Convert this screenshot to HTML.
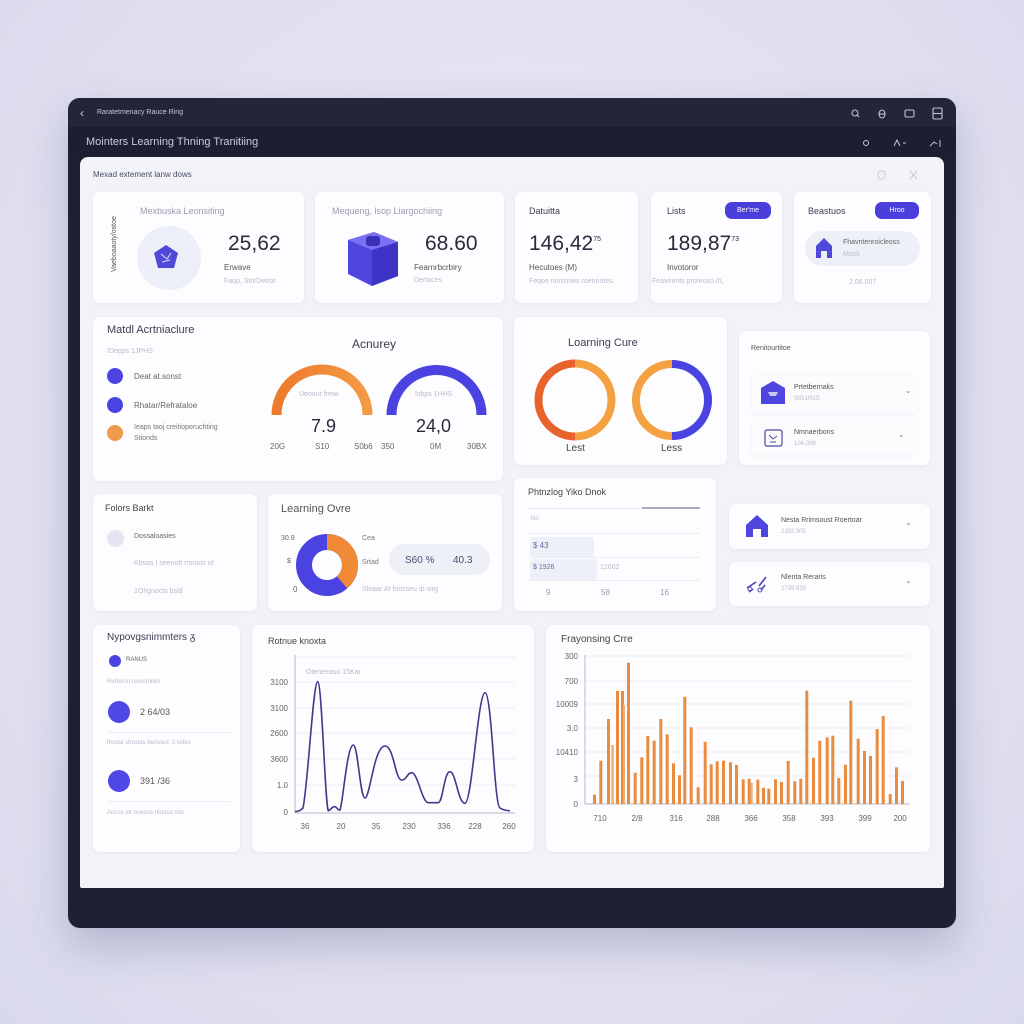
<!DOCTYPE html>
<html><head><meta charset="utf-8">
<style>
*{margin:0;padding:0;box-sizing:border-box}
html,body{width:1024px;height:1024px;overflow:hidden}
body{background:radial-gradient(ellipse at 50% 45%,#eaeaf5 0%,#e2e2f1 55%,#d9d9ec 100%);font-family:"Liberation Sans",sans-serif;position:relative}
.a{position:absolute;white-space:nowrap}
.frame{left:68px;top:98px;width:888px;height:830px;background:#1e2134;border-radius:12px;box-shadow:0 18px 40px rgba(60,60,110,.25)}
.bar1{left:68px;top:98px;width:888px;height:29px;background:#232639;border-radius:12px 12px 0 0}
.panel{left:80px;top:157px;width:864px;height:731px;background:#f2f3f9;border-radius:8px 8px 2px 2px}
.card{position:absolute;background:#fdfdff;border-radius:7px;box-shadow:0 1px 4px rgba(90,90,140,.08)}
.t{position:absolute;white-space:nowrap;color:#3b3d52}
.g{color:#9a9cb0}
.lg{color:#b8bac8}
.pill{position:absolute;background:#4b3fdc;color:#fff;border-radius:7px;font-size:7px;text-align:center;line-height:17px}
</style></head><body>
<div class="a frame"></div>
<div class="a bar1"></div>
<div class="a" style="left:68px;top:127px;width:888px;height:30px;background:#1c1f31"></div>
<div class="a" style="left:80px;top:106px;color:#c9cbe0;font-size:12px">&#8249;</div>
<div class="a" style="left:97px;top:109px;color:#c4c6da;font-size:7px">Raratetmenacy Rauce Ring</div>
<svg class="a" style="left:845px;top:104px" width="100" height="20" viewBox="0 0 100 20">
<g fill="none" stroke="#c2c4d8" stroke-width="1.1">
<circle cx="10" cy="9" r="3"/><line x1="12" y1="11" x2="14" y2="13"/>
<ellipse cx="37" cy="10" rx="3" ry="4"/><line x1="34" y1="10" x2="40" y2="10"/>
<rect x="60" y="6" width="9" height="7" rx="1.5"/>
<rect x="88" y="4" width="9" height="11" rx="1.5"/><line x1="88" y1="9.5" x2="97" y2="9.5"/>
</g></svg>
<div class="a" style="left:86px;top:136px;color:#c9cbe0;font-size:11px">Mointers Learning Thning Tranitiing</div>
<svg class="a" style="left:858px;top:135px" width="90" height="16" viewBox="0 0 90 16">
<g fill="none" stroke="#c2c4d8" stroke-width="1">
<circle cx="8" cy="8" r="2.5"/><path d="M36 11 l3-6 l3 6 M45 8 h3"/><path d="M72 11 l4-4 l3 2 M82 5 v7"/>
</g></svg>

<div class="a panel"></div>
<div class="a" style="left:93px;top:170px;color:#4a4c60;font-size:8px">Mexad extement lanw dows</div>
<svg class="a" style="left:872px;top:166px" width="50" height="18"><g fill="none" stroke="#c6c8d6" stroke-width="1"><rect x="6" y="5" width="7" height="8" rx="3"/><path d="M38 5 l7 8 M45 5 l-7 8"/></g></svg>

<!-- Row 1 -->
<div class="card" style="left:93px;top:192px;width:211px;height:111px"></div>
<div class="t" style="left:111px;top:272px;font-size:7px;transform:rotate(-90deg);transform-origin:0 0;color:#555">Vaeboaaoty/ostoe</div>
<div class="t g" style="left:140px;top:206px;font-size:9px">Mexbuska Leonsiting</div>
<div class="a" style="left:137px;top:226px;width:64px;height:64px;border-radius:50%;background:#eceef8"></div>
<svg class="a" style="left:153px;top:244px" width="26" height="26"><polygon points="13,1 25,9 21,24 5,24 1,9" fill="#5048d8"/><path d="M8 10 l6 5 l4-6 M9 18 l8-2" stroke="#c9c6f5" stroke-width="1.2" fill="none"/></svg>
<div class="t" style="left:228px;top:232px;font-size:21px;color:#2a2c3c">25,62</div>
<div class="t" style="left:224px;top:263px;font-size:8px;color:#555">Erwave</div>
<div class="t lg" style="left:224px;top:278px;font-size:7px">Faop, Sto/Detrot</div>

<div class="card" style="left:315px;top:192px;width:189px;height:111px"></div>
<div class="t g" style="left:332px;top:206px;font-size:9px">Mequeng, lsop Liargochiing</div>
<svg class="a" style="left:340px;top:228px" width="62" height="62" viewBox="0 0 62 62">
<polygon points="8,12 34,4 58,14 58,48 32,58 8,46" fill="#4f46e0"/>
<polygon points="8,12 34,4 58,14 32,22" fill="#7b70f0"/>
<polygon points="32,22 58,14 58,48 32,58" fill="#3d33c4"/>
<rect x="26" y="8" width="14" height="10" rx="3" fill="#3a30b8"/>
</svg>
<div class="t" style="left:425px;top:232px;font-size:21px;color:#2a2c3c">68.60</div>
<div class="t" style="left:414px;top:263px;font-size:8px;color:#555">Fearnrbcrbiry</div>
<div class="t lg" style="left:414px;top:277px;font-size:7px">Dertoces</div>

<div class="card" style="left:515px;top:192px;width:123px;height:111px"></div>
<div class="t" style="left:529px;top:206px;font-size:9px">Datuitta</div>
<div class="t" style="left:529px;top:232px;font-size:21px;color:#2a2c3c">146,42<sup style="font-size:7px;vertical-align:9px">75</sup></div>
<div class="t" style="left:529px;top:263px;font-size:8px;color:#555">Hecutoes (M)</div>
<div class="t lg" style="left:529px;top:278px;font-size:7px">Feqoe norcones roennotes.</div>

<div class="card" style="left:651px;top:192px;width:131px;height:111px"></div>
<div class="t" style="left:667px;top:206px;font-size:9px">Lists</div>
<div class="pill" style="left:725px;top:202px;width:46px;height:17px">Ber'me</div>
<div class="t" style="left:667px;top:232px;font-size:21px;color:#2a2c3c">189,87<sup style="font-size:7px;vertical-align:9px">73</sup></div>
<div class="t" style="left:667px;top:263px;font-size:8px;color:#555">Invotoror</div>
<div class="t lg" style="left:652px;top:278px;font-size:7px">Feavirents proteoso Ih,</div>

<div class="card" style="left:794px;top:192px;width:137px;height:111px"></div>
<div class="t" style="left:808px;top:206px;font-size:9px">Beastuos</div>
<div class="pill" style="left:875px;top:202px;width:44px;height:17px">Hroo</div>
<div class="a" style="left:805px;top:231px;width:115px;height:35px;border-radius:17px;background:#eef0f8"></div>
<svg class="a" style="left:815px;top:237px" width="18" height="22"><polygon points="9,1 17,9 17,21 12,21 12,14 6,14 6,21 1,21 1,9" fill="#5048d8"/></svg>
<div class="t" style="left:843px;top:239px;font-size:7px;color:#666">Fhavntenroicleoss</div>
<div class="t lg" style="left:843px;top:251px;font-size:7px">Mock</div>
<div class="t lg" style="left:849px;top:279px;font-size:7px">2.06.007</div>

<!-- Row 2 -->
<div class="card" style="left:93px;top:317px;width:410px;height:164px"></div>
<div class="t" style="left:107px;top:324px;font-size:11px;color:#3a3c50">Matdl Acrtniaclure</div>
<div class="t lg" style="left:107px;top:348px;font-size:7px">/Depps 1JPHS</div>
<div class="a" style="left:107px;top:368px;width:16px;height:16px;border-radius:50%;background:#4a43e2"></div>
<div class="t" style="left:134px;top:372px;font-size:8px;color:#666">Deat at.sonst</div>
<div class="a" style="left:107px;top:397px;width:16px;height:16px;border-radius:50%;background:#4a43e2"></div>
<div class="t" style="left:134px;top:401px;font-size:8px;color:#666">Rhatar/Refrataloe</div>
<div class="a" style="left:107px;top:425px;width:16px;height:16px;border-radius:50%;background:#f29a4c"></div>
<div class="t" style="left:134px;top:424px;font-size:7px;color:#777">Ieaps taoj creitioporuchting</div>
<div class="t" style="left:134px;top:435px;font-size:7px;color:#777">Stionds</div>
<div class="t" style="left:352px;top:337px;font-size:12px;color:#3a3c50">Acnurey</div>
<svg class="a" style="left:260px;top:355px" width="240" height="70">
<defs><linearGradient id="og" x1="0" x2="1"><stop offset="0" stop-color="#ee7a2c"/><stop offset="1" stop-color="#f39a46"/></linearGradient></defs>
<path d="M16.5 60 A45.5 45.5 0 0 1 107.5 60" fill="none" stroke="url(#og)" stroke-width="10"/>
<path d="M131.5 60 A45 45 0 0 1 221.5 60" fill="none" stroke="#4a43e2" stroke-width="10"/>
</svg>
<div class="t lg" style="left:299px;top:391px;font-size:7px">Ueoour freiw</div>
<div class="t lg" style="left:415px;top:391px;font-size:7px">Isbps 1HHS</div>
<div class="t" style="left:311px;top:416px;font-size:18px;color:#2a2c3c">7.9</div>
<div class="t" style="left:416px;top:416px;font-size:18px;color:#2a2c3c">24,0</div>
<div class="t" style="left:270px;top:442px;font-size:8px;color:#666">20G</div>
<div class="t" style="left:315px;top:442px;font-size:8px;color:#666">S10</div>
<div class="t" style="left:354px;top:442px;font-size:8px;color:#666">S0b6</div>
<div class="t" style="left:381px;top:442px;font-size:8px;color:#666">350</div>
<div class="t" style="left:430px;top:442px;font-size:8px;color:#666">0M</div>
<div class="t" style="left:467px;top:442px;font-size:8px;color:#666">30BX</div>

<div class="card" style="left:514px;top:317px;width:213px;height:148px"></div>
<div class="t" style="left:568px;top:337px;font-size:11px;color:#3a3c50">Loarning Cure</div>
<svg class="a" style="left:530px;top:355px" width="190" height="90">
<path d="M45 8.5 A36.5 36.5 0 0 0 45 81.5" fill="none" stroke="#e8622b" stroke-width="8"/>
<path d="M45 8.5 A36.5 36.5 0 0 1 45 81.5" fill="none" stroke="#f4a141" stroke-width="8"/>
<path d="M142 9 A36 36 0 0 0 142 81" fill="none" stroke="#f4a141" stroke-width="8"/>
<path d="M142 9 A36 36 0 0 1 142 81" fill="none" stroke="#4a43e2" stroke-width="8"/>
</svg>
<div class="t" style="left:566px;top:443px;font-size:10px;color:#444">Lest</div>
<div class="t" style="left:661px;top:443px;font-size:10px;color:#444">Less</div>

<div class="card" style="left:739px;top:331px;width:191px;height:134px"></div>
<div class="t" style="left:751px;top:345px;font-size:7px;color:#555">Renitourtitoe</div>
<div class="a" style="left:752px;top:374px;width:166px;height:40px;border-radius:5px;background:#fbfbfe;box-shadow:0 1px 3px rgba(90,90,140,.08)"></div>
<svg class="a" style="left:760px;top:380px" width="26" height="25"><polygon points="13,1 25,8 25,24 1,24 1,8" fill="#4f46e0"/><path d="M8 12 h10 l-2 4 h-6z" fill="#c9c6f5"/></svg>
<div class="t" style="left:794px;top:384px;font-size:7px;color:#555">Prtetbernaks</div>
<div class="t lg" style="left:794px;top:396px;font-size:6px">SI0/1R2S</div>
<div class="t" style="left:905px;top:386px;font-size:8px;color:#888">&#8964;</div>
<div class="a" style="left:752px;top:420px;width:166px;height:35px;border-radius:5px;background:#fbfbfe;box-shadow:0 1px 3px rgba(90,90,140,.08)"></div>
<svg class="a" style="left:764px;top:429px" width="20" height="18"><rect x="1" y="1" width="17" height="16" rx="2" fill="none" stroke="#4a4aa0" stroke-width="1.2"/><path d="M5 6 l4 4 l4-3 M6 13 h6" stroke="#4a4aa0" fill="none"/></svg>
<div class="t" style="left:794px;top:429px;font-size:7px;color:#555">Nmnaerbons</div>
<div class="t lg" style="left:794px;top:441px;font-size:6px">104,008</div>
<div class="t" style="left:898px;top:430px;font-size:8px;color:#888">&#8964;</div>

<!-- Row 3 -->
<div class="card" style="left:93px;top:494px;width:164px;height:117px"></div>
<div class="t" style="left:105px;top:503px;font-size:9px;color:#444">Folors Barkt</div>
<div class="a" style="left:107px;top:530px;width:17px;height:17px;border-radius:50%;background:#e4e5f0"></div>
<div class="t" style="left:134px;top:533px;font-size:7px;color:#666">Dossaloasies</div>
<div class="t lg" style="left:134px;top:560px;font-size:7px">Kbsas I seenott rrsnosr of</div>
<div class="t lg" style="left:134px;top:588px;font-size:7px">1Ohgnocts bsld</div>

<div class="card" style="left:268px;top:494px;width:234px;height:117px"></div>
<div class="t" style="left:281px;top:503px;font-size:11px;color:#555">Learning Ovre</div>
<svg class="a" style="left:295px;top:533px" width="64" height="64" viewBox="-32 -32 64 64">
<circle r="23" fill="none" stroke="#4a43e2" stroke-width="16"/>
<path d="M0 -23 A23 23 0 0 1 15.1 17.4" fill="none" stroke="#f08a36" stroke-width="16"/>
</svg>
<div class="t" style="left:281px;top:535px;font-size:7px;color:#666">30.9</div>
<div class="t" style="left:287px;top:558px;font-size:7px;color:#666">$</div>
<div class="t" style="left:293px;top:585px;font-size:8px;color:#666">0</div>
<div class="t" style="left:362px;top:535px;font-size:7px;color:#777">Cea</div>
<div class="t" style="left:362px;top:559px;font-size:7px;color:#777">Srtad</div>
<div class="a" style="left:389px;top:544px;width:101px;height:31px;border-radius:15px;background:#eef0f8"></div>
<div class="t" style="left:405px;top:555px;font-size:10px;color:#4a4c70">S60 %</div>
<div class="t" style="left:453px;top:555px;font-size:10px;color:#4a4c70">40.3</div>
<div class="t lg" style="left:362px;top:586px;font-size:7px">Sleaar At fonsseu ıp sirg</div>

<div class="card" style="left:514px;top:478px;width:202px;height:133px"></div>
<div class="t" style="left:528px;top:487px;font-size:9px;color:#444">Phtnzlog Yiko Dnok</div>
<div class="a" style="left:528px;top:508px;width:172px;height:1px;background:#e8e9f0"></div>
<div class="a" style="left:642px;top:507px;width:58px;height:2px;background:#a9abbe"></div>
<div class="t lg" style="left:531px;top:516px;font-size:6px">No</div>
<div class="a" style="left:528px;top:533px;width:172px;height:1px;background:#ececf3"></div>
<div class="a" style="left:530px;top:537px;width:64px;height:20px;border-radius:3px;background:#eef0f9"></div>
<div class="t" style="left:533px;top:541px;font-size:8px;color:#6a6aa0">$ 43</div>
<div class="a" style="left:528px;top:557px;width:172px;height:1px;background:#ececf3"></div>
<div class="a" style="left:530px;top:559px;width:67px;height:21px;border-radius:3px;background:#eef0f9"></div>
<div class="t" style="left:533px;top:564px;font-size:7px;color:#6a6aa0">$ 1926</div>
<div class="t lg" style="left:600px;top:564px;font-size:7px">12002</div>
<div class="a" style="left:528px;top:580px;width:172px;height:1px;background:#ececf3"></div>
<div class="t g" style="left:546px;top:588px;font-size:8px">9</div>
<div class="t g" style="left:601px;top:588px;font-size:8px">58</div>
<div class="t g" style="left:660px;top:588px;font-size:8px">16</div>

<div class="card" style="left:729px;top:504px;width:201px;height:45px"></div>
<svg class="a" style="left:745px;top:514px" width="24" height="24"><path d="M12 1 L23 11 V23 H16 V15 H8 V23 H1 V11 Z" fill="#4f46e0"/></svg>
<div class="t" style="left:781px;top:517px;font-size:7px;color:#555">Nesta Rrimsoust Roertoar</div>
<div class="t lg" style="left:781px;top:529px;font-size:6px">2J92.005</div>
<div class="t" style="left:905px;top:518px;font-size:8px;color:#888">&#8964;</div>
<div class="card" style="left:729px;top:562px;width:201px;height:44px"></div>
<svg class="a" style="left:745px;top:572px" width="24" height="22"><path d="M2 16 l9-6 M4 20 l4-3 M14 14 l7-9 M16 18 l4-5" stroke="#4a43c0" stroke-width="1.6" fill="none"/><circle cx="5" cy="17" r="2" fill="none" stroke="#4a43c0"/><circle cx="15" cy="18" r="2" fill="none" stroke="#4a43c0"/></svg>
<div class="t" style="left:781px;top:574px;font-size:7px;color:#555">Nlenta Reraris</div>
<div class="t lg" style="left:781px;top:586px;font-size:6px">2739 835</div>
<div class="t" style="left:905px;top:576px;font-size:8px;color:#888">&#8964;</div>

<!-- Row 4 -->
<div class="card" style="left:93px;top:625px;width:147px;height:227px"></div>
<div class="t" style="left:107px;top:632px;font-size:10px;color:#3a3c50">Nypovgsnimmters ᵹ</div>
<div class="a" style="left:109px;top:655px;width:12px;height:12px;border-radius:50%;background:#4a43e2"></div>
<div class="t" style="left:126px;top:657px;font-size:6px;color:#666">RANUS</div>
<div class="t lg" style="left:107px;top:679px;font-size:6px">Rurtercn rsessmites</div>
<div class="a" style="left:108px;top:701px;width:22px;height:22px;border-radius:50%;background:#4f48e6"></div>
<div class="t" style="left:140px;top:707px;font-size:9px;color:#555">2 64/03</div>
<div class="a" style="left:107px;top:732px;width:124px;height:1px;background:#ececf3"></div>
<div class="t lg" style="left:107px;top:740px;font-size:6px">Ihsota stnsdas beristed, 5 lsltes</div>
<div class="a" style="left:108px;top:770px;width:22px;height:22px;border-radius:50%;background:#4f48e6"></div>
<div class="t" style="left:140px;top:776px;font-size:9px;color:#555">391 /36</div>
<div class="a" style="left:107px;top:801px;width:124px;height:1px;background:#ececf3"></div>
<div class="t lg" style="left:107px;top:810px;font-size:6px">Ancos str oceeus rtinoca rlds</div>

<div class="card" style="left:252px;top:625px;width:282px;height:227px"></div>
<div class="t" style="left:268px;top:636px;font-size:9px;color:#444">Rotnue knoxta</div>
<svg class="a" style="left:252px;top:625px" width="282" height="227">
<g stroke="#ececf3" stroke-width="1">
<line x1="43" y1="32" x2="263" y2="32"/><line x1="43" y1="57" x2="263" y2="57"/><line x1="43" y1="83" x2="263" y2="83"/><line x1="43" y1="108" x2="263" y2="108"/><line x1="43" y1="134" x2="263" y2="134"/><line x1="43" y1="160" x2="263" y2="160"/>
</g>
<line x1="43" y1="30" x2="43" y2="188" stroke="#b8bacb"/>
<line x1="43" y1="188" x2="263" y2="188" stroke="#b8bacb"/>
<g fill="#666" font-size="8" font-family="Liberation Sans" text-anchor="end">
<text x="36" y="60">3100</text><text x="36" y="86">3100</text><text x="36" y="111">2600</text><text x="36" y="137">3600</text><text x="36" y="163">1.0</text><text x="36" y="190">0</text>
</g>
<g fill="#666" font-size="8" font-family="Liberation Sans" text-anchor="middle">
<text x="53" y="204">36</text><text x="89" y="204">20</text><text x="124" y="204">35</text><text x="157" y="204">230</text><text x="192" y="204">336</text><text x="223" y="204">228</text><text x="257" y="204">260</text>
</g>
<text x="54" y="49" fill="#b6b8c6" font-size="7" font-family="Liberation Sans">Oteneeaso 15Kar</text>
<path d="M43 186.7 C48 186 49 185 51 183 C56 160 61 57 65.7 56.7 C70 57 73 180 76.3 185.7 C78 186 80 181 83 181.7 C85 182 86 186 88 185 C91 178 95 120 101.3 120 C106 120 108 173 113 173 C118 173 122 121 133 121 C142 121 143 155 149.7 155 C155 155 155 147.7 159.7 147.7 C166 148 170 177.7 176.3 177.7 L186.3 177.7 C191 177 192 146.7 198 146.7 C204 147 206 178.3 213 178.3 C220 178 226 67.7 233 67.7 C240 68 242 180 248 183 C252 185.5 255 185.7 258 185.7" fill="none" stroke="#3b3a8c" stroke-width="1.6"/>
</svg>

<div class="card" style="left:546px;top:625px;width:384px;height:227px"></div>
<div class="t" style="left:561px;top:634px;font-size:10px;color:#444">Frayonsing Crre</div>
<svg class="a" style="left:546px;top:625px" width="384" height="227">
<g stroke="#ececf3" stroke-width="1">
<line x1="39" y1="31" x2="364" y2="31"/><line x1="39" y1="56" x2="364" y2="56"/><line x1="39" y1="79" x2="364" y2="79"/><line x1="39" y1="103" x2="364" y2="103"/><line x1="39" y1="127" x2="364" y2="127"/><line x1="39" y1="151" x2="364" y2="151"/>
</g>
<line x1="39" y1="30" x2="39" y2="179" stroke="#b8bacb"/>
<line x1="39" y1="179" x2="364" y2="179" stroke="#b8bacb"/>
<g fill="#666" font-size="8" font-family="Liberation Sans" text-anchor="end">
<text x="32" y="34">300</text><text x="32" y="59">700</text><text x="32" y="82">10009</text><text x="32" y="106">3.0</text><text x="32" y="130">10410</text><text x="32" y="157">3</text><text x="32" y="182">0</text>
</g>
<g fill="#666" font-size="8" font-family="Liberation Sans" text-anchor="middle">
<text x="54" y="196">710</text><text x="91" y="196">2/8</text><text x="130" y="196">316</text><text x="167" y="196">288</text><text x="205" y="196">366</text><text x="243" y="196">358</text><text x="281" y="196">393</text><text x="319" y="196">399</text><text x="354" y="196">200</text>
</g>
<g fill="#ea8c40">
<rect x="47.0" y="169.7" width="3" height="9.3"/>
<rect x="53.3" y="135.7" width="3" height="43.3"/>
<rect x="61.0" y="94.0" width="3" height="85"/>
<rect x="65.3" y="120.0" width="2.5" height="59" fill="#f0ad74"/>
<rect x="70.0" y="66.0" width="3" height="113"/>
<rect x="75.0" y="66.0" width="3" height="113"/>
<rect x="77.0" y="80.0" width="2" height="99" fill="#f0ad74"/>
<rect x="81.0" y="37.7" width="3" height="141.3"/>
<rect x="87.7" y="147.7" width="3" height="31.3"/>
<rect x="94.3" y="132.3" width="3" height="46.7"/>
<rect x="100.3" y="111.0" width="3" height="68"/>
<rect x="106.7" y="115.7" width="3" height="63.3"/>
<rect x="113.3" y="94.0" width="3" height="85"/>
<rect x="119.7" y="109.3" width="3" height="69.7"/>
<rect x="126.0" y="138.3" width="3" height="40.7"/>
<rect x="132.0" y="150.3" width="3" height="28.7"/>
<rect x="137.3" y="71.7" width="3" height="107.3"/>
<rect x="143.7" y="102.3" width="3" height="76.7"/>
<rect x="150.7" y="162.3" width="3" height="16.7"/>
<rect x="157.7" y="116.7" width="3" height="62.3"/>
<rect x="163.7" y="139.3" width="3" height="39.7"/>
<rect x="169.7" y="136.3" width="3" height="42.7"/>
<rect x="176.0" y="135.7" width="3" height="43.3"/>
<rect x="183.0" y="137.3" width="3" height="41.7"/>
<rect x="189.0" y="140.0" width="3" height="39"/>
<rect x="195.7" y="154.3" width="3" height="24.7"/>
<rect x="201.7" y="153.7" width="3" height="25.3"/>
<rect x="204.7" y="157.7" width="2" height="21.3" fill="#f0ad74"/>
<rect x="210.3" y="154.7" width="3" height="24.3"/>
<rect x="216.0" y="162.7" width="3" height="16.3"/>
<rect x="221.3" y="163.7" width="3" height="15.3"/>
<rect x="228.0" y="154.3" width="3" height="24.7"/>
<rect x="234.0" y="157.0" width="3" height="22"/>
<rect x="240.7" y="136.0" width="3" height="43"/>
<rect x="247.3" y="156.3" width="3" height="22.7"/>
<rect x="253.3" y="153.7" width="3" height="25.3"/>
<rect x="259.3" y="65.7" width="3" height="113.3"/>
<rect x="266.0" y="132.7" width="3" height="46.3"/>
<rect x="272.3" y="115.7" width="3" height="63.3"/>
<rect x="279.7" y="112.3" width="3" height="66.7"/>
<rect x="285.3" y="110.7" width="3" height="68.3"/>
<rect x="291.3" y="153.0" width="3" height="26"/>
<rect x="298.0" y="139.7" width="3" height="39.3"/>
<rect x="303.3" y="75.7" width="3" height="103.3"/>
<rect x="310.7" y="113.7" width="3" height="65.3"/>
<rect x="317.0" y="126.0" width="3" height="53"/>
<rect x="323.0" y="131.0" width="3" height="48"/>
<rect x="329.7" y="104.0" width="3" height="75"/>
<rect x="335.7" y="91.0" width="3" height="88"/>
<rect x="342.7" y="169.0" width="3" height="10"/>
<rect x="349.0" y="142.3" width="3" height="36.7"/>
<rect x="355.0" y="156.0" width="3" height="23"/>
</g>
</svg>
</body></html>
